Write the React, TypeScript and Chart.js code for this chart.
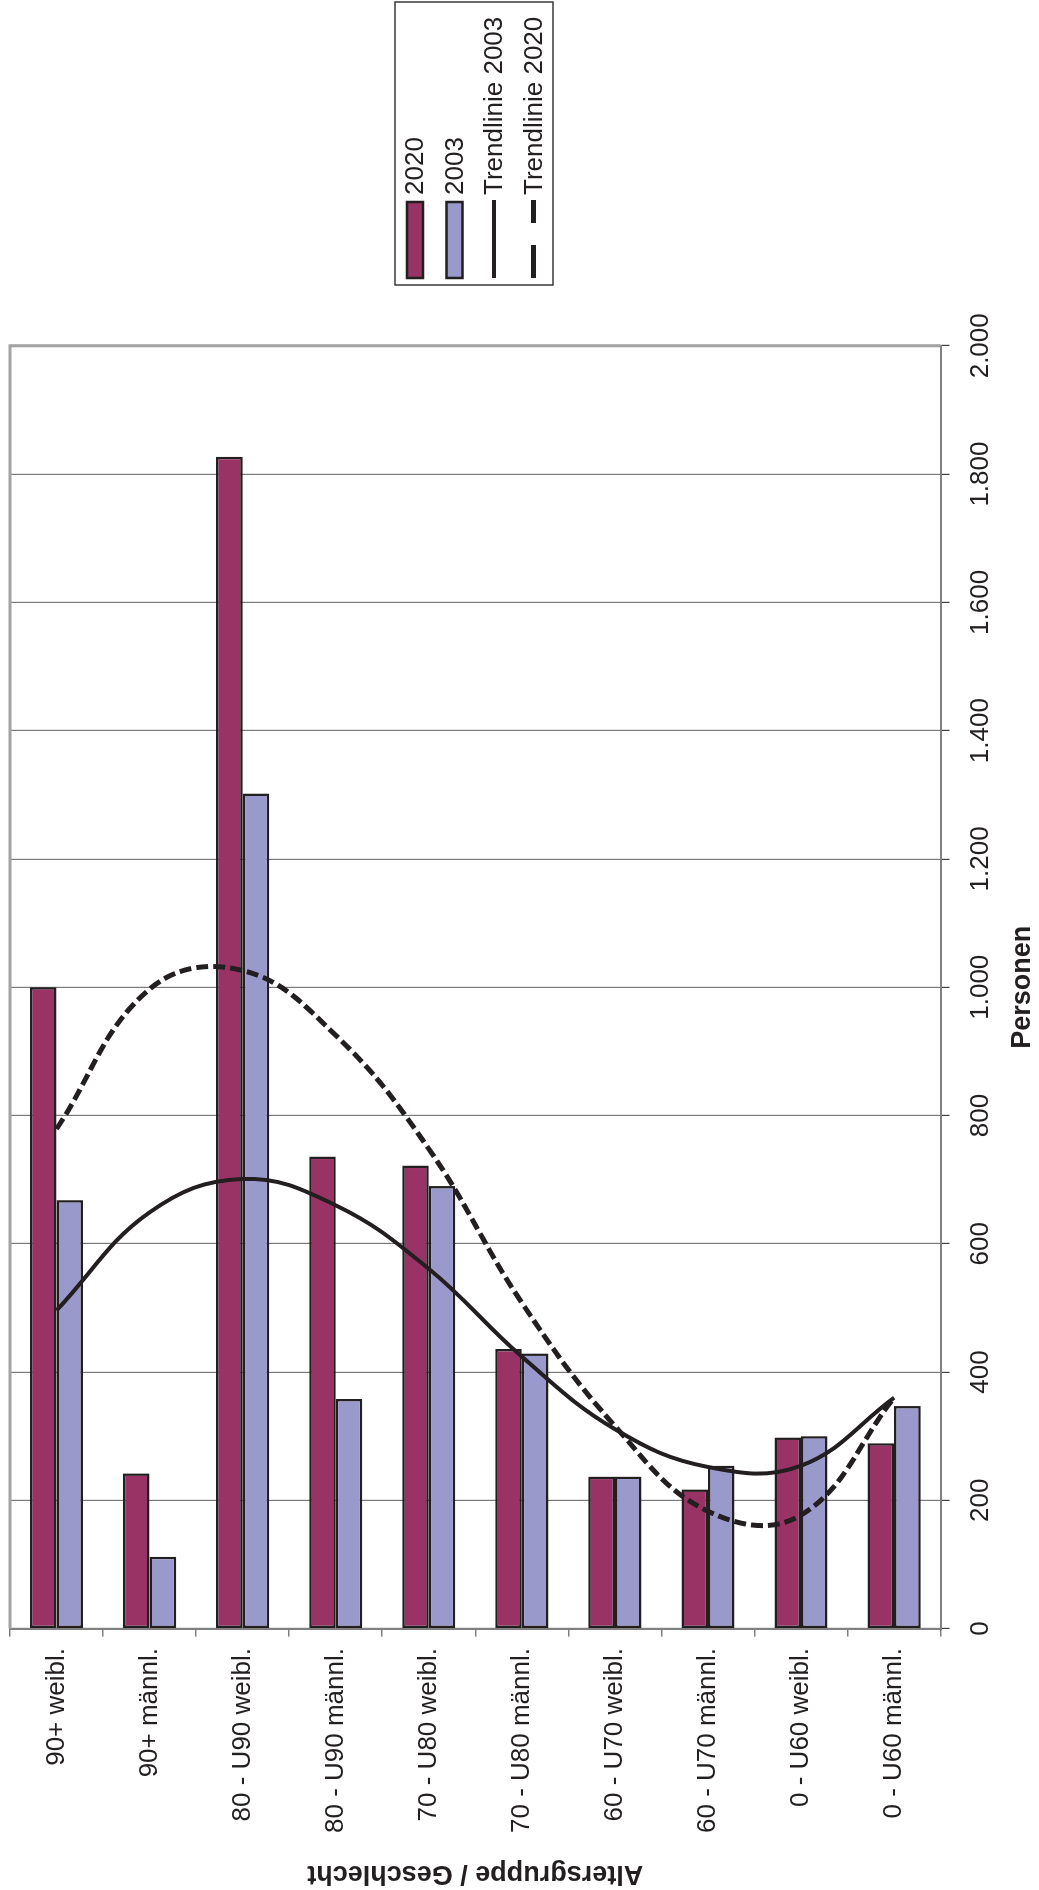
import React, { useEffect, useRef } from "react";
import { Chart, registerables } from "chart.js";

Chart.register(...registerables);

// ---- data ----
const categories = [
  "90+ weibl.",
  "90+ männl.",
  "80 - U90 weibl.",
  "80 - U90 männl.",
  "70 - U80 weibl.",
  "70 - U80 männl.",
  "60 - U70 weibl.",
  "60 - U70 männl.",
  "0 - U60 weibl.",
  "0 - U60 männl.",
];
const values2020 = [1000, 242, 1827, 736, 722, 436, 237, 217, 298, 289];
const values2003 = [668, 112, 1302, 358, 690, 429, 237, 254, 300, 347];
const trend2003 = [496, 649, 701, 660, 561, 424, 311, 252, 254, 360];
const trend2020 = [779, 997, 1026, 925, 748, 508, 316, 183, 177, 360];
const seriesLabels = ["2020", "2003", "Trendlinie 2003", "Trendlinie 2020"];
const valueMin = 0;
const valueMax = 2000;
const valueStep = 200;
const categoryTitle = "Altersgruppe / Geschlecht";
const valueTitle = "Personen";

// ---- style ----
const W = 1890; // unrotated canvas width
const H = 1039; // unrotated canvas height
const FONT = "'Liberation Sans', Arial, sans-serif";
const INK = "#231f20";
const PURPLE = "#993366";
const BLUE = "#9999cc";

const fmt = (v: number) => {
  if (v >= 1000) {
    const t = Math.floor(v / 1000);
    const r = String(v % 1000).padStart(3, "0");
    return `${t}.${r}`;
  }
  return String(v);
};

const LEGEND = {
  x: 1605,
  y: 395,
  w: 283,
  h: 158,
  row0: 415,
  rowGap: 39.5,
  keyX: 1612,
  keyW: 76,
  textX: 1695,
};

const excelLegend = {
  id: "excelLegend",
  afterDraw(chart: any) {
    const ctx = chart.ctx as CanvasRenderingContext2D;
    ctx.save();
    ctx.strokeStyle = "#3a3a3a";
    ctx.lineWidth = 1.5;
    ctx.strokeRect(LEGEND.x, LEGEND.y, LEGEND.w, LEGEND.h);
    const order = [0, 1, 2, 3];
    order.forEach((di, i) => {
      const ds = chart.data.datasets[di];
      const cy = LEGEND.row0 + i * LEGEND.rowGap;
      if (ds.type === "bar") {
        ctx.fillStyle = ds.backgroundColor;
        ctx.fillRect(LEGEND.keyX, cy - 8, LEGEND.keyW, 16);
        ctx.strokeStyle = INK;
        ctx.lineWidth = 2.5;
        ctx.strokeRect(LEGEND.keyX, cy - 8, LEGEND.keyW, 16);
      } else {
        ctx.strokeStyle = ds.borderColor;
        ctx.lineWidth = ds.borderDash ? 5 : 4;
        ctx.setLineDash(ds.borderDash ? [33, 22] : []);
        ctx.lineCap = "butt";
        ctx.beginPath();
        ctx.moveTo(LEGEND.keyX, cy);
        ctx.lineTo(LEGEND.keyX + LEGEND.keyW + 2, cy);
        ctx.stroke();
        ctx.setLineDash([]);
      }
      ctx.fillStyle = INK;
      ctx.font = `26px ${FONT}`;
      ctx.textBaseline = "middle";
      ctx.textAlign = "left";
      ctx.fillText(ds.label, LEGEND.textX, cy + 1);
    });
    ctx.restore();
  },
};

const plotFrame = {
  id: "plotFrame",
  beforeDatasetsDraw(chart: any) {
    const { ctx, chartArea } = chart;
    ctx.save();
    ctx.strokeStyle = "#a3a3a3";
    ctx.lineWidth = 3;
    ctx.beginPath();
    ctx.moveTo(chartArea.left, chartArea.top);
    ctx.lineTo(chartArea.right, chartArea.top);
    ctx.lineTo(chartArea.right, chartArea.bottom);
    ctx.stroke();
    ctx.restore();
  },
};

export default function App() {
  const ref = useRef<HTMLCanvasElement | null>(null);

  useEffect(() => {
    if (!ref.current) return;
    const chart = new Chart(ref.current, {
      type: "bar",
      data: {
        labels: categories,
        datasets: [
          {
            type: "bar",
            label: seriesLabels[0],
            data: values2020,
            backgroundColor: PURPLE,
            borderColor: INK,
            borderWidth: 2.5,
            borderSkipped: false,
            categoryPercentage: 0.571,
            barPercentage: 1.0,
            order: 1,
          },
          {
            type: "bar",
            label: seriesLabels[1],
            data: values2003,
            backgroundColor: BLUE,
            borderColor: INK,
            borderWidth: 2.5,
            borderSkipped: false,
            categoryPercentage: 0.571,
            barPercentage: 1.0,
            order: 1,
          },
          {
            type: "line",
            label: seriesLabels[2],
            data: trend2003,
            borderColor: INK,
            borderWidth: 4,
            pointRadius: 0,
            fill: false,
            tension: 0.4,
            order: 0,
          },
          {
            type: "line",
            label: seriesLabels[3],
            data: trend2020,
            borderColor: INK,
            borderWidth: 5,
            borderDash: [12, 5],
            pointRadius: 0,
            fill: false,
            tension: 0.4,
            order: 0,
          },
        ] as any,
      },
      options: {
        indexAxis: "y",
        responsive: false,
        animation: false,
        devicePixelRatio: 1,
        layout: { padding: { left: 0, top: 10, right: W - 1544.2, bottom: 0 } },
        plugins: {
          legend: { display: false },
          tooltip: { enabled: false },
        },
        scales: {
          y: {
            type: "category",
            position: "left",
            grid: {
              offset: true,
              drawOnChartArea: false,
              drawTicks: true,
              tickLength: 8,
              color: "#808080",
              lineWidth: 1.5,
            },
            border: { display: true, color: "#808080", width: 2 },
            ticks: {
              color: INK,
              padding: 11.4,
              font: { family: FONT, size: 26 },
              autoSkip: false,
            },
            title: {
              display: true,
              text: categoryTitle,
              color: INK,
              padding: { top: 0, bottom: 0 },
              font: { family: FONT, size: 27, weight: "bold" },
            },
            afterFit: (scale: any) => {
              scale.width = 261.4;
              scale.paddingTop = 0;
              scale.paddingBottom = 0;
            },
          },
          x: {
            type: "linear",
            position: "bottom",
            min: valueMin,
            max: valueMax,
            grid: {
              color: "#7a7a7a",
              lineWidth: 1.2,
              tickLength: 9,
              tickColor: "#404040",
            },
            border: { display: true, color: "#808080", width: 2 },
            ticks: {
              stepSize: valueStep,
              color: INK,
              padding: 16,
              font: { family: FONT, size: 26 },
              maxRotation: 0,
              callback: (v: any) => fmt(Number(v)),
            },
            title: {
              display: true,
              text: valueTitle,
              color: INK,
              padding: { top: 0, bottom: 0 },
              font: { family: FONT, size: 27, weight: "bold" },
            },
            afterFit: (scale: any) => {
              scale.height = H - 940.6;
            },
          },
        },
      } as any,
      plugins: [plotFrame, excelLegend],
    });
    return () => chart.destroy();
  }, []);

  return (
    <div
      style={{
        position: "absolute",
        left: 0,
        top: 0,
        width: H,
        height: W,
        overflow: "hidden",
        background: "#ffffff",
      }}
    >
      <div
        style={{
          position: "absolute",
          left: 0,
          top: 0,
          width: W,
          height: H,
          transformOrigin: "0 0",
          transform: `translateY(${W}px) rotate(-90deg)`,
        }}
      >
        <canvas
          ref={ref}
          width={W}
          height={H}
          style={{ display: "block", width: W, height: H }}
        />
      </div>
    </div>
  );
}
